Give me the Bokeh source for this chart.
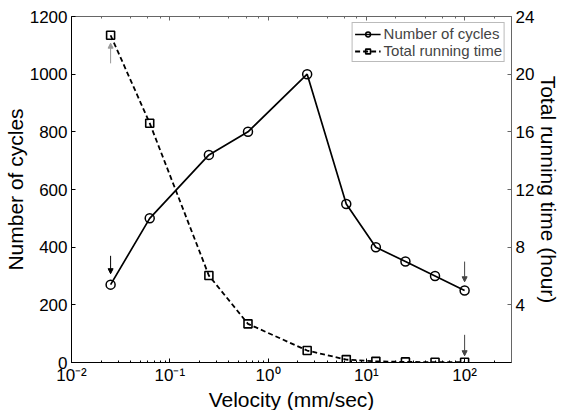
from bokeh.plotting import figure
from bokeh.models import (Range1d, LogAxis, LinearAxis, FixedTicker, CustomJSTickFormatter,
                          Legend, LegendItem, Arrow, NormalHead, ColumnDataSource)
from bokeh.embed import file_html
from bokeh.resources import INLINE

velocity = [0.025, 0.0625, 0.25, 0.625, 2.5, 6.25, 12.5, 25, 50, 100]
cycles = [270, 500, 720, 800, 1000, 550, 400, 350, 300, 250]
run_time = [22.7, 16.6, 6.03, 2.68, 0.83, 0.2, 0.08, 0.04, 0.02, 0.02]

x_label = "Velocity (mm/sec)"
y_label = "Number of cycles"
y2_label = "Total running time (hour)"
legend_labels = ["Number of cycles", "Total running time"]
left_ticks = [0, 200, 400, 600, 800, 1000, 1200]
right_ticks = [4, 8, 12, 16, 20, 24]

FONT = "Liberation Sans"

p = figure(frame_width=440, frame_height=346, x_axis_type="log", x_range=Range1d(0.01, 300),
           y_range=Range1d(0, 1200), output_backend="svg", toolbar_location=None,
           min_border_left=71, min_border_right=0, min_border_top=16, min_border_bottom=0)
p.extra_y_ranges = {"time": Range1d(0, 24)}
p.grid.visible = False
p.outline_line_color = "#888888"

sup = CustomJSTickFormatter(code="""
const e = Math.round(Math.log10(tick));
const m = {'-':'\\u207b','0':'\\u2070','1':'\\u00b9','2':'\\u00b2','3':'\\u00b3','4':'\\u2074'};
return '10' + String(e).split('').map(c => m[c]).join('');
""")

xa = p.xaxis[0]
xa.formatter = sup
xa.axis_label = x_label
ya = p.yaxis[0]
ya.ticker = FixedTicker(ticks=left_ticks)
ya.axis_label = y_label
ya.minor_tick_line_color = None

ra = LinearAxis(y_range_name="time", ticker=FixedTicker(ticks=right_ticks), axis_label=y2_label)
ra.minor_tick_line_color = None
p.add_layout(ra, "right")

ta = LogAxis()
p.add_layout(ta, "above")

for ax in [xa, ya, ra, ta]:
    ax.major_tick_in = 4
    ax.major_tick_out = 0
    ax.minor_tick_in = 2
    ax.minor_tick_out = 0
    ax.major_label_text_font = FONT
    ax.major_label_text_font_size = "17px"
    ax.major_label_text_color = "black"
    ax.axis_label_text_font = FONT
    ax.axis_label_text_font_size = "21px"
    ax.axis_label_text_font_style = "normal"
    ax.axis_label_text_color = "black"
    ax.axis_label_standoff = 0
for ax in [ra, ta]:
    ax.axis_line_color = "#666666"
    ax.major_tick_line_color = "#666666"
ta.minor_tick_line_color = "#666666"
ta.major_label_text_font_size = "1px"
ta.major_label_text_alpha = 0
ta.major_label_standoff = 0
xa.major_label_standoff = 3
ya.major_label_standoff = 4
ra.major_label_standoff = 4

src = ColumnDataSource(dict(v=velocity, c=cycles, t=run_time))
l1 = p.line("v", "c", source=src, line_color="black", line_width=1.7)
m1 = p.scatter("v", "c", source=src, marker="circle", size=9, fill_color="white",
               fill_alpha=0, line_color="black", line_width=1.5)
l2 = p.line("v", "t", source=src, y_range_name="time", line_color="black",
            line_width=1.8, line_dash="5 3")
m2 = p.scatter("v", "t", source=src, y_range_name="time", marker="square", size=8,
               fill_color="white", fill_alpha=0, line_color="black", line_width=1.6)

# arrows marking the first and last points
def arrow(x, y0, y1, color, rng="default"):
    a = Arrow(x_start=x, x_end=x, y_start=y0, y_end=y1, line_color=color, line_width=1,
              end=NormalHead(size=5, fill_color=color, line_color=color), y_range_name=rng)
    p.add_layout(a)

arrow(velocity[0], cycles[0] + 100, cycles[0] + 38, "black")
arrow(velocity[-1], cycles[-1] + 100, cycles[-1] + 30, "#444444")
arrow(velocity[0], run_time[0] - 1.95, run_time[0] - 0.55, "#999999", "time")
arrow(velocity[-1], run_time[-1] + 1.9, run_time[-1] + 0.45, "#444444", "time")

legend = Legend(items=[LegendItem(label=legend_labels[0], renderers=[l1, m1]),
                       LegendItem(label=legend_labels[1], renderers=[l2, m2])],
                location="top_right", label_text_font=FONT, label_text_font_size="15px",
                glyph_width=26, glyph_height=12, label_height=12, spacing=-3, padding=2,
                margin=6, border_line_color="#777777", label_standoff=3,
                background_fill_alpha=1)
p.add_layout(legend)

open("out.html", "w").write(file_html(p, INLINE))
